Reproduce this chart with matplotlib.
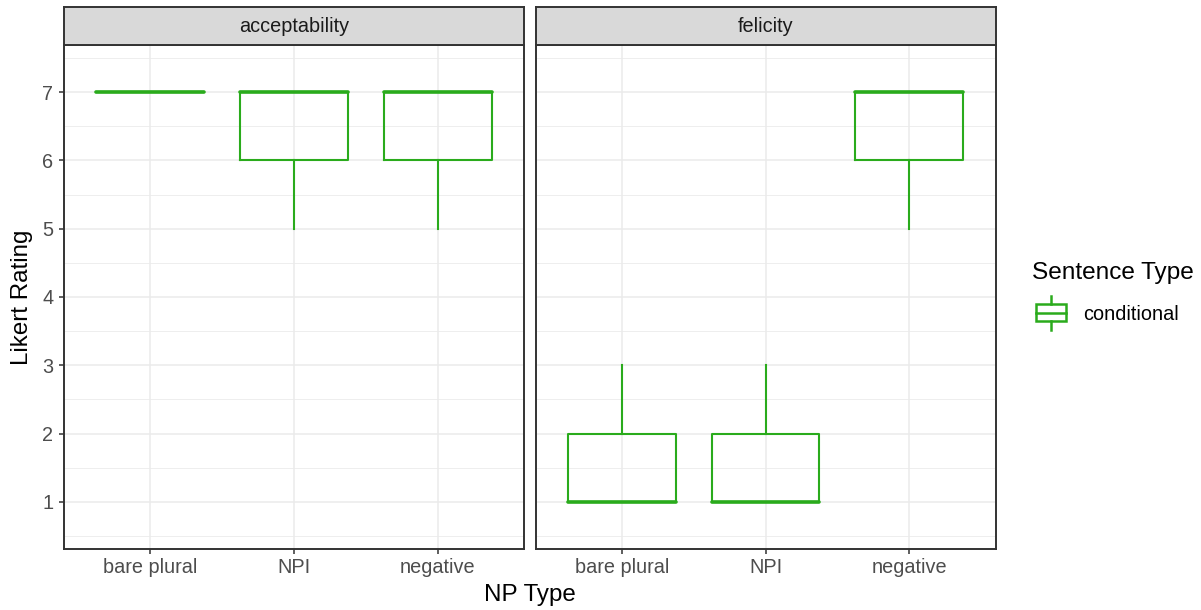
import matplotlib
matplotlib.use('Agg')
import matplotlib.pyplot as plt
from matplotlib.patches import Rectangle
from matplotlib.lines import Line2D

plt.rcParams['font.family'] = ['Liberation Sans', 'DejaVu Sans']

# ---- data ----
facets = ['acceptability', 'felicity']
np_types = ['bare plural', 'NPI', 'negative']
sentence_types = ['conditional']
y_ticks = [1, 2, 3, 4, 5, 6, 7]
y_minor = [0.5, 1.5, 2.5, 3.5, 4.5, 5.5, 6.5, 7.5]

# five-number summaries (lower whisker, Q1, median, Q3, upper whisker)
acc_whislo = [7, 5, 5]
acc_q1 = [7, 6, 6]
acc_med = [7, 7, 7]
acc_q3 = [7, 7, 7]
acc_whishi = [7, 7, 7]

fel_whislo = [1, 1, 5]
fel_q1 = [1, 1, 6]
fel_med = [1, 1, 7]
fel_q3 = [2, 2, 7]
fel_whishi = [3, 3, 7]

summaries = {
    'acceptability': (acc_whislo, acc_q1, acc_med, acc_q3, acc_whishi),
    'felicity': (fel_whislo, fel_q1, fel_med, fel_q3, fel_whishi),
}

# ---- style ----
GREEN = '#2AAB1C'
DARK = '#333333'
GRID = '#EBEBEB'
TICKC = '#4D4D4D'
W, H, DPI = 1201, 610, 100

fig = plt.figure(figsize=(W / DPI, H / DPI), dpi=DPI)
fig.patch.set_facecolor('white')

panel_left = [64, 535.5]
panel_w = 460
panel_top, panel_bot = 45, 549
strip_top = 7

positions = list(range(1, len(np_types) + 1))
axes = []
for i, facet in enumerate(facets):
    x0 = panel_left[i]
    ax = fig.add_axes([x0 / W, (H - panel_bot) / H, panel_w / W, (panel_bot - panel_top) / H])
    axes.append(ax)
    wl, q1, md, q3, wh = summaries[facet]
    stats = [dict(whislo=wl[k], q1=q1[k], med=md[k], q3=q3[k], whishi=wh[k], label=np_types[k])
             for k in range(len(np_types))]
    ax.bxp(stats, positions=positions, widths=0.75, showfliers=False, showcaps=False,
           boxprops=dict(color=GREEN, lw=1.5),
           whiskerprops=dict(color=GREEN, lw=1.5),
           medianprops=dict(color=GREEN, lw=2.6, solid_capstyle='round'),
           manage_ticks=False, zorder=3)
    ax.set_xlim(0.4, 3.6)
    ax.set_ylim(0.312, 7.688)
    ax.set_xticks(positions)
    ax.set_xticklabels(np_types)
    ax.set_yticks(y_ticks)
    ax.set_yticks(y_minor, minor=True)
    ax.grid(True, which='major', color=GRID, lw=1.1, zorder=0)
    ax.grid(True, which='minor', axis='y', color=GRID, lw=0.6, zorder=0)
    ax.set_axisbelow(True)
    for s in ax.spines.values():
        s.set_color(DARK)
        s.set_linewidth(1.4)
    ax.tick_params(axis='x', which='major', length=3.6, width=1.1, color=DARK,
                   labelcolor=TICKC, labelsize=14.3, pad=3)
    ax.tick_params(axis='y', which='major', length=3.6, width=1.1, color=DARK,
                   labelcolor=TICKC, labelsize=14.3, pad=4)
    ax.tick_params(axis='y', which='minor', length=0)
    if i > 0:
        ax.tick_params(axis='y', which='major', length=0, labelleft=False)

    # strip
    sax = fig.add_axes([x0 / W, (H - panel_top) / H, panel_w / W, (panel_top - strip_top) / H])
    sax.set_facecolor('#D9D9D9')
    sax.set_xticks([])
    sax.set_yticks([])
    for s in sax.spines.values():
        s.set_color(DARK)
        s.set_linewidth(1.4)
    sax.text(0.5, 0.5, facet, ha='center', va='center', fontsize=14.3, color='#1A1A1A',
             transform=sax.transAxes)

# axis titles
fig.text(22 / W, 1 - ((panel_top + panel_bot) / 2) / H, 'Likert Rating', rotation=90,
         ha='center', va='center', fontsize=17.4, color='black')
fig.text(((panel_left[0] + panel_left[1] + panel_w) / 2) / W, 1 - 595 / H, 'NP Type',
         ha='center', va='center', fontsize=17.4, color='black')

# legend
fig.text(1032 / W, 1 - 273 / H, 'Sentence Type', ha='left', va='center', fontsize=17.6,
         color='black')
kax = fig.add_axes([1031 / W, (H - 333) / H, 40 / W, 40 / H])
kax.set_xlim(0, 1)
kax.set_ylim(0, 1)
kax.axis('off')
kax.add_patch(Rectangle((0.12, 0.3), 0.76, 0.42, fill=False, ec=GREEN, lw=1.8))
kax.add_line(Line2D([0.12, 0.88], [0.5, 0.5], color=GREEN, lw=1.8))
kax.add_line(Line2D([0.5, 0.5], [0.72, 0.92], color=GREEN, lw=1.8))
kax.add_line(Line2D([0.5, 0.5], [0.08, 0.3], color=GREEN, lw=1.8))
fig.text(1083 / W, 1 - 314 / H, sentence_types[0], ha='left', va='center', fontsize=14.3,
         color='black')

fig.savefig('out.png', dpi=DPI, facecolor='white')
